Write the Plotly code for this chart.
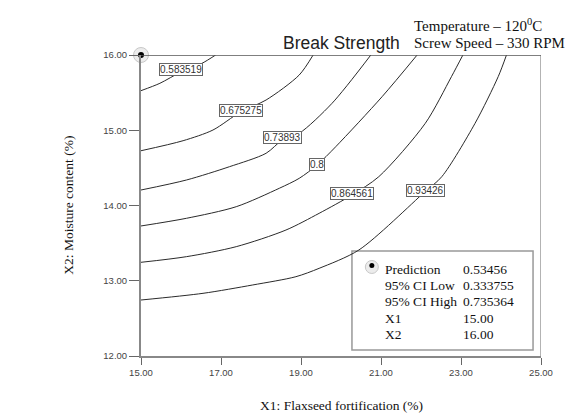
import plotly.graph_objects as go

# ---------------- data ----------------
levels = [0.583519, 0.675275, 0.73893, 0.8, 0.864561, 0.93426]
level_labels = ["0.583519", "0.675275", "0.73893", "0.8", "0.864561", "0.93426"]

contour_x = [
    [15.00, 15.473, 15.995, 16.517, 16.866],
    [15.00, 16.052, 16.799, 17.488, 18.127, 18.955, 19.303],
    [15.00, 16.137, 17.214, 18.127, 18.532, 18.955, 19.776, 20.746],
    [15.00, 16.137, 17.381, 18.458, 18.955, 19.403, 19.868, 21.027, 21.903],
    [15.00, 16.137, 17.381, 18.624, 19.453, 20.274, 20.945, 22.107, 22.761, 23.047],
    [15.00, 16.550, 17.794, 18.873, 19.453, 20.448, 22.090, 22.520, 23.351, 23.930, 24.137],
]
contour_y = [
    [15.526, 15.624, 15.774, 15.887, 16.00],
    [14.728, 14.861, 15.003, 15.243, 15.402, 15.734, 16.00],
    [14.206, 14.339, 14.516, 14.694, 14.870, 14.959, 15.358, 16.00],
    [13.728, 13.830, 13.984, 14.229, 14.361, 14.538, 14.781, 15.446, 16.00],
    [13.245, 13.320, 13.453, 13.674, 13.896, 14.140, 14.383, 15.092, 15.712, 16.00],
    [12.744, 12.833, 12.944, 13.054, 13.165, 13.409, 14.179, 14.383, 15.092, 15.712, 16.00],
]
label_x = [15.995, 17.512, 18.532, 19.391, 20.274, 22.102]
label_y = [15.801, 15.269, 14.910, 14.551, 14.159, 14.199]

x_ticks = [15, 17, 19, 21, 23, 25]
y_ticks = [12, 13, 14, 15, 16]

pred_x = 15.00
pred_y = 16.00
info_names = ["Prediction", "95% CI Low", "95% CI High", "X1", "X2"]
info_values = ["0.53456", "0.333755", "0.735364", "15.00", "16.00"]

title = "Break Strength"
cond_lines = ["Temperature – 120<sup>0</sup>C", "Screw Speed – 330 RPM"]
x_title = "X1: Flaxseed fortification (%)"
y_title = "X2: Moisture content (%)"

# ---------------- figure ----------------
serif = "Liberation Serif, Times New Roman, serif"
sans = "Liberation Sans, Arial, sans-serif"

fig = go.Figure()

for xs, ys in zip(contour_x, contour_y):
    fig.add_trace(go.Scatter(x=xs, y=ys, mode="lines",
                             line=dict(color="#2a2a2a", width=1, shape="spline", smoothing=0.8),
                             hoverinfo="skip", showlegend=False))

for lx, ly, lt in zip(label_x, label_y, level_labels):
    fig.add_annotation(x=lx, y=ly, text=lt, showarrow=False,
                       font=dict(family=sans, size=10, color="#333"),
                       bgcolor="white", bordercolor="#666", borderwidth=1, borderpad=0)

# prediction point
fig.add_trace(go.Scatter(x=[pred_x], y=[pred_y], mode="markers",
                         marker=dict(size=15, color="#ececec", line=dict(color="#c8c8c8", width=1)),
                         cliponaxis=False, hoverinfo="skip", showlegend=False))
fig.add_trace(go.Scatter(x=[pred_x], y=[pred_y], mode="markers",
                         marker=dict(size=6, color="black"),
                         cliponaxis=False, hoverinfo="skip", showlegend=False))

# info box (legend of the prediction)
box_x0, box_x1, box_y0, box_y1 = 20.274, 24.801, 12.080, 13.395
fig.add_shape(type="rect", xref="x", yref="y", x0=box_x0, x1=box_x1, y0=box_y0, y1=box_y1,
              line=dict(color="#999", width=1.5), fillcolor="white", layer="below")

icon_x, icon_y = 20.771, 13.183
fig.add_trace(go.Scatter(x=[icon_x], y=[icon_y], mode="markers",
                         marker=dict(size=13, color="#ececec", line=dict(color="#c8c8c8", width=1)),
                         hoverinfo="skip", showlegend=False))
fig.add_trace(go.Scatter(x=[icon_x], y=[icon_y + 0.02], mode="markers",
                         marker=dict(size=5, color="black"),
                         hoverinfo="skip", showlegend=False))

row_y = [13.156, 12.934, 12.718, 12.496, 12.286]
for ry, nm, vl in zip(row_y, info_names, info_values):
    fig.add_annotation(x=21.045, y=ry, text=nm, showarrow=False, xanchor="left",
                       font=dict(family=serif, size=13.5, color="#111"))
    fig.add_annotation(x=23.01, y=ry, text=vl, showarrow=False, xanchor="left",
                       font=dict(family=serif, size=13.5, color="#111"))

# frame top / right
fig.add_shape(type="line", xref="x", yref="y", x0=15, x1=25, y0=16, y1=16,
              line=dict(color="#555", width=1.3), layer="above")
fig.add_shape(type="line", xref="x", yref="y", x0=25, x1=25, y0=12, y1=16,
              line=dict(color="#666", width=1), layer="above")

# titles
fig.add_annotation(xref="paper", yref="paper", x=0.3507, y=1.04, text=title,
                   showarrow=False, xanchor="left", yanchor="middle",
                   font=dict(family=sans, size=17.5, color="#222"))
fig.add_annotation(xref="paper", yref="paper", x=0.6765, y=1.10, text=cond_lines[0],
                   showarrow=False, xanchor="left", yanchor="middle",
                   font=dict(family=serif, size=15, color="#111"))
fig.add_annotation(xref="paper", yref="paper", x=0.6765, y=1.04, text=cond_lines[1],
                   showarrow=False, xanchor="left", yanchor="middle",
                   font=dict(family=serif, size=15, color="#111"))
fig.add_annotation(xref="paper", yref="paper", x=0.5, y=-0.163, text=x_title,
                   showarrow=False, xanchor="center", yanchor="middle",
                   font=dict(family=serif, size=13.5, color="#111"))
fig.add_annotation(xref="paper", yref="paper", x=-0.182, y=0.5, text=y_title,
                   showarrow=False, xanchor="center", yanchor="middle", textangle=-90,
                   font=dict(family=serif, size=13.5, color="#111"))

fig.update_xaxes(range=[15, 25], tickvals=x_ticks, ticktext=[f"{v:.2f}" for v in x_ticks],
                 showgrid=False, zeroline=False, showline=True, linecolor="#888", linewidth=2,
                 ticks="outside", ticklen=7, tickwidth=1, tickcolor="#666",
                 tickfont=dict(family=sans, size=9.5, color="#444"))
fig.update_yaxes(range=[12, 16], tickvals=y_ticks, ticktext=[f"{v:.2f}" for v in y_ticks],
                 showgrid=False, zeroline=False, showline=True, linecolor="#888", linewidth=2,
                 ticks="outside", ticklen=10, tickwidth=1, tickcolor="#666",
                 tickfont=dict(family=sans, size=9.5, color="#444"))

fig.update_layout(width=565, height=413, margin=dict(l=141, r=22, t=55, b=57),
                  paper_bgcolor="white", plot_bgcolor="white", showlegend=False)

fig.write_html("out.html", config={"displayModeBar": False},
               post_script="document.body.style.margin='0';document.body.style.overflow='hidden';")
